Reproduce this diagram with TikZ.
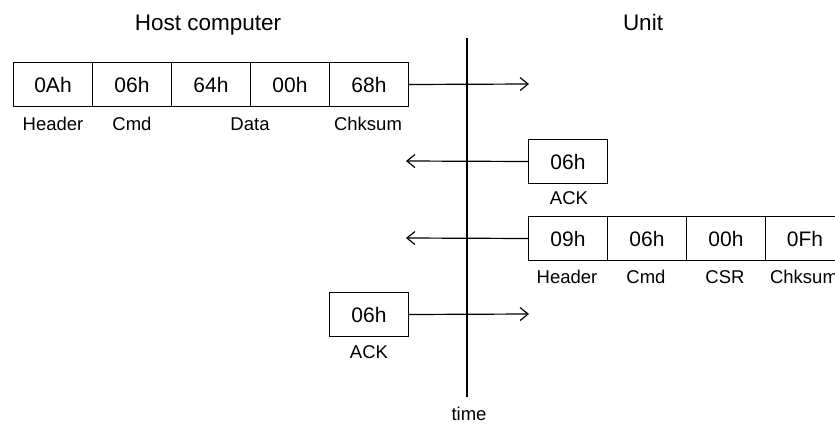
\documentclass[tikz,border=0pt]{standalone}
\usepackage{fontspec}
\setmainfont{Liberation Sans}
\usetikzlibrary{arrows.meta}
\begin{document}
\begin{tikzpicture}[x=1pt,y=-1pt,
  cell/.style={draw, line width=1pt, minimum width=79pt, minimum height=44pt, inner sep=0pt, anchor=north west, font=\fontsize{21}{21}\selectfont},
  lbl/.style={inner sep=0pt, font=\fontsize{18.5}{18.5}\selectfont},
  ttl/.style={inner sep=0pt, anchor=base, font=\fontsize{22.5}{22.5}\selectfont},
  msg/.style={line width=1.2pt, -{Straight Barb[length=8pt,width=13pt,line width=1.2pt]}}]
\useasboundingbox (0,0) rectangle (835,423);
\clip (0,0) rectangle (835,423);
% titles
\node[ttl] (thost) at (208,30) {Host computer};
\node[ttl] (tunit) at (643,30) {Unit};
% time line
\coordinate (ttop) at (466.5,38);
\coordinate (tbot) at (466.5,397);
\draw[line width=2pt] (ttop) -- (tbot);
\node[lbl] (time) at (469,414) {time};
% row 1: host command
\node[cell] (a1) at (13,62) {0Ah};
\node[cell] (a2) at (92,62) {06h};
\node[cell] (a3) at (171,62) {64h};
\node[cell] (a4) at (250,62) {00h};
\node[cell] (a5) at (329,62) {68h};
\node[lbl] (la1) at (53,124) {Header};
\node[lbl] (la2) at (132,124) {Cmd};
\node[lbl] (la3) at (250,124) {Data};
\node[lbl] (la5) at (368,124) {Chksum};
\coordinate (e1) at (529,84);
\draw[msg] (a5.east) -- (e1);
% row 2: unit ACK
\node[cell] (b1) at (528,139) {06h};
\node[lbl] (lb1) at (569,198) {ACK};
\coordinate (e2) at (406,161);
\draw[msg] (b1.west) -- (e2);
% row 3: unit response
\node[cell] (c1) at (528,216) {09h};
\node[cell] (c2) at (607,216) {06h};
\node[cell] (c3) at (686,216) {00h};
\node[cell] (c4) at (765,216) {0Fh};
\node[lbl] (lc1) at (567,277) {Header};
\node[lbl] (lc2) at (646,277) {Cmd};
\node[lbl] (lc3) at (725,277) {CSR};
\node[lbl] (lc4) at (804,277) {Chksum};
\coordinate (e3) at (406,238);
\draw[msg] (c1.west) -- (e3);
% row 4: host ACK
\node[cell] (d1) at (329,292) {06h};
\node[lbl] (ld1) at (369,352) {ACK};
\coordinate (e4) at (529,314);
\draw[msg] (d1.east) -- (e4);
\end{tikzpicture}
\end{document}
